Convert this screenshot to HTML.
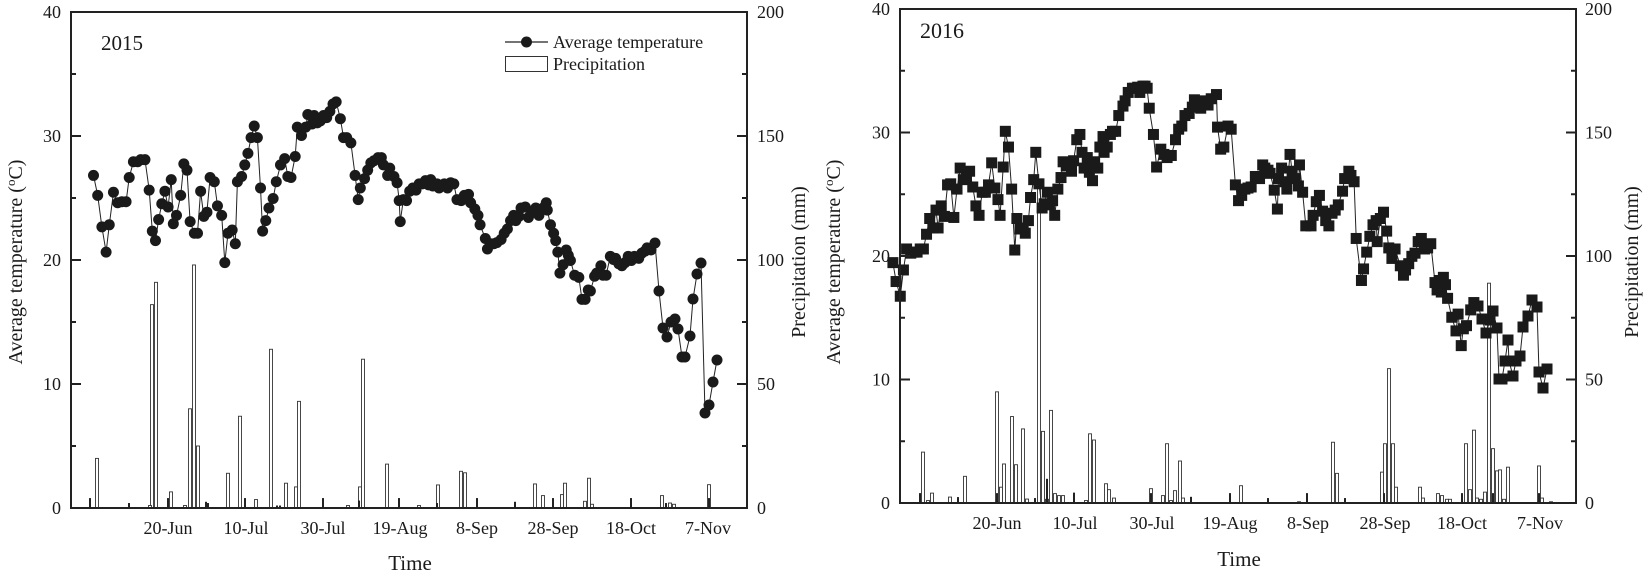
<!DOCTYPE html>
<html><head><meta charset="utf-8">
<style>
html,body{margin:0;padding:0;background:#fff;}
svg text{font-family:"Liberation Serif",serif;fill:#1a1a1a;}
</style></head>
<body>
<svg id="s" width="1650" height="573" viewBox="0 0 1650 573" xmlns="http://www.w3.org/2000/svg">
<g id="bars"></g>
<g id="lines"></g>
<g id="marks"></g>
<!-- LEFT CHART axes -->
<rect x="71" y="12" width="676" height="496" fill="none" stroke="#222" stroke-width="2"/>
<g stroke="#222" stroke-width="2">
<line x1="71" y1="136" x2="81" y2="136"/><line x1="71" y1="260" x2="81" y2="260"/><line x1="71" y1="384" x2="81" y2="384"/>
<line x1="71" y1="74" x2="76" y2="74"/><line x1="71" y1="198" x2="76" y2="198"/><line x1="71" y1="322" x2="76" y2="322"/><line x1="71" y1="446" x2="76" y2="446"/>
<line x1="747" y1="136" x2="737" y2="136"/><line x1="747" y1="260" x2="737" y2="260"/><line x1="747" y1="384" x2="737" y2="384"/>
<line x1="747" y1="74" x2="742" y2="74"/><line x1="747" y1="198" x2="742" y2="198"/><line x1="747" y1="322" x2="742" y2="322"/><line x1="747" y1="446" x2="742" y2="446"/>
</g>
<g font-size="18" text-anchor="end">
<text x="61" y="18">40</text><text x="61" y="142">30</text><text x="61" y="266">20</text><text x="61" y="390">10</text><text x="61" y="514">0</text>
</g>
<g font-size="18" text-anchor="start">
<text x="757" y="18">200</text><text x="757" y="142">150</text><text x="757" y="266">100</text><text x="757" y="390">50</text><text x="757" y="514">0</text>
</g>
<g font-size="18" text-anchor="middle">
<text x="168" y="534">20-Jun</text><text x="246" y="534">10-Jul</text><text x="323" y="534">30-Jul</text><text x="400" y="534">19-Aug</text><text x="477" y="534">8-Sep</text><text x="553" y="534">28-Sep</text><text x="631" y="534">18-Oct</text><text x="708" y="534">7-Nov</text>
</g>
<text x="410" y="570" font-size="21" text-anchor="middle">Time</text>
<text transform="translate(22,262) rotate(-90)" font-size="20" text-anchor="middle">Average temperature (<tspan dy="-7" font-size="13">o</tspan><tspan dy="7">C)</tspan></text>
<text transform="translate(805,262) rotate(-90)" font-size="20" text-anchor="middle">Precipitation (mm)</text>
<text x="101" y="50" font-size="21">2015</text>
<line x1="505" y1="42" x2="548" y2="42" stroke="#222" stroke-width="1.2"/>
<circle cx="526.5" cy="42" r="5.5" fill="#1a1a1a"/>
<text x="553" y="48" font-size="18">Average temperature</text>
<rect x="505.5" y="56.5" width="42" height="15" fill="#fff" stroke="#333" stroke-width="1"/>
<text x="553" y="70" font-size="18">Precipitation</text>

<!-- RIGHT CHART axes -->
<rect x="900" y="9" width="676" height="494" fill="none" stroke="#222" stroke-width="2"/>
<g stroke="#222" stroke-width="2">
<line x1="900" y1="132.5" x2="910" y2="132.5"/><line x1="900" y1="256" x2="910" y2="256"/><line x1="900" y1="379.5" x2="910" y2="379.5"/>
<line x1="900" y1="70.75" x2="905" y2="70.75"/><line x1="900" y1="194.25" x2="905" y2="194.25"/><line x1="900" y1="317.75" x2="905" y2="317.75"/><line x1="900" y1="441.25" x2="905" y2="441.25"/>
<line x1="1576" y1="132.5" x2="1566" y2="132.5"/><line x1="1576" y1="256" x2="1566" y2="256"/><line x1="1576" y1="379.5" x2="1566" y2="379.5"/>
<line x1="1576" y1="70.75" x2="1571" y2="70.75"/><line x1="1576" y1="194.25" x2="1571" y2="194.25"/><line x1="1576" y1="317.75" x2="1571" y2="317.75"/><line x1="1576" y1="441.25" x2="1571" y2="441.25"/>
</g>
<g font-size="18" text-anchor="end">
<text x="890" y="15">40</text><text x="890" y="138.5">30</text><text x="890" y="262">20</text><text x="890" y="385.5">10</text><text x="890" y="509">0</text>
</g>
<g font-size="18" text-anchor="start">
<text x="1585" y="15">200</text><text x="1585" y="138.5">150</text><text x="1585" y="262">100</text><text x="1585" y="385.5">50</text><text x="1585" y="509">0</text>
</g>
<g font-size="18" text-anchor="middle">
<text x="997" y="529">20-Jun</text><text x="1075" y="529">10-Jul</text><text x="1152" y="529">30-Jul</text><text x="1230" y="529">19-Aug</text><text x="1308" y="529">8-Sep</text><text x="1385" y="529">28-Sep</text><text x="1462" y="529">18-Oct</text><text x="1540" y="529">7-Nov</text>
</g>
<text x="1239" y="566" font-size="21" text-anchor="middle">Time</text>
<text transform="translate(840,262) rotate(-90)" font-size="20" text-anchor="middle">Average temperature (<tspan dy="-7" font-size="13">o</tspan><tspan dy="7">C)</tspan></text>
<text transform="translate(1638,262) rotate(-90)" font-size="20" text-anchor="middle">Precipitation (mm)</text>
<text x="920" y="38" font-size="22">2016</text>
</svg>
<script>
var K=1.0505,NS="http://www.w3.org/2000/svg";
function el(p,t,a){var e=document.createElementNS(NS,t);for(var k in a)e.setAttribute(k,a[k]);document.getElementById(p).appendChild(e);}
var L=[[89,167],[93,186],[97,216],[101,240],[104,214],[108,183],[112,193],[116,192],[120,192],[123,169],[127,154],[131,154],[134,152],[138,152],[142,181],[145,220],[148,229],[151,209],[154,194],[157,182],[160,197],[163,171],[165,213],[168,205],[172,186],[175,156],[178,162],[181,211],[185,222],[188,222],[191,182],[194,206],[197,202],[200,169],[204,173],[207,196],[211,205],[214,250],[217,222],[221,219],[224,232],[226,173],[230,168],[233,157],[236,146],[239,131],[242,120],[245,131],[248,179],[250,220],[253,210],[256,198],[260,189],[263,173],[267,157],[271,151],[274,168],[277,169],[281,149],[283,121],[287,129],[291,121],[293,109],[297,118],[299,110],[302,117],[305,115],[308,110],[311,112],[314,106],[317,99],[320,97],[324,113],[327,131],[330,131],[334,136],[338,167],[341,190],[343,179],[347,170],[350,162],[353,155],[356,153],[360,150],[363,150],[365,157],[369,167],[371,160],[375,168],[378,174],[380,191],[381,211],[384,190],[387,191],[390,182],[393,179],[396,181],[399,175],[402,175],[405,172],[408,176],[410,171],[412,177],[416,175],[418,179],[420,177],[423,175],[426,179],[429,174],[432,175],[435,190],[439,191],[442,186],[446,185],[448,193],[452,199],[455,205],[457,214],[462,227],[464,237],[467,232],[470,232],[473,231],[477,228],[480,222],[483,218],[486,210],[489,205],[491,210],[494,206],[496,198],[500,197],[503,207],[507,202],[510,198],[513,205],[517,198],[520,193],[521,200],[524,214],[527,222],[529,229],[531,240],[533,260],[536,252],[539,238],[541,243],[543,248],[547,262],[551,264],[554,285],[557,285],[560,276],[562,277],[566,263],[568,260],[572,253],[574,262],[577,262],[581,244],[584,247],[586,246],[589,251],[592,253],[595,250],[598,244],[601,248],[604,244],[608,246],[611,241],[614,239],[616,236]].map(function(p){return[p[0]*K,p[1]*K];});
L=L.concat([[651,250],[655,243],[659,291],[663,328],[667,337],[671,322],[675,319],[678,329],[682,357],[685,357],[690,336],[693,299],[697,274],[701,263],[705,413],[709,405],[713,382],[717,360]]);
var R=[[857,250],[860,268],[864,282],[867,257],[870,237],[874,241],[877,240],[880,240],[883,237],[886,237],[889,223],[892,208],[895,217],[898,200],[900,217],[903,196],[906,206],[909,176],[912,175],[915,207],[918,180],[921,160],[924,171],[927,170],[930,163],[933,178],[936,196],[939,205],[942,183],[945,183],[948,176],[951,155],[954,179],[957,190],[959,205],[962,159],[964,125],[967,140],[970,180],[973,238],[975,208],[978,218],[981,217],[983,222],[986,210],[988,188],[991,171],[993,145],[996,175],[999,198],[1001,194],[1004,183],[1006,195],[1009,191],[1011,205],[1014,180],[1017,169],[1019,154],[1022,158],[1025,157],[1027,163],[1029,153],[1032,133],[1035,128],[1037,145],[1039,160],[1042,150],[1044,164],[1047,172],[1049,154],[1052,160],[1054,140],[1057,130],[1058,145],[1061,140],[1064,128],[1066,125],[1069,125],[1072,110],[1076,101],[1078,96],[1081,88],[1085,84],[1087,84],[1090,83],[1092,88],[1095,82],[1097,82],[1099,84],[1101,103],[1105,128],[1108,159],[1112,142],[1115,147],[1118,150],[1122,148],[1126,133],[1129,123],[1132,120],[1135,110],[1139,108],[1142,102],[1144,95],[1147,99],[1150,103],[1154,96],[1157,100],[1160,94],[1165,90],[1166,121],[1169,142],[1172,140],[1176,120],[1179,123],[1183,176],[1186,191],[1189,186],[1192,180],[1195,179],[1198,178],[1202,168],[1206,170],[1209,157],[1211,160],[1214,162],[1216,165],[1220,181],[1223,199],[1224,170],[1227,160],[1230,173],[1232,180],[1235,147],[1237,163],[1240,170],[1243,177],[1244,157],[1247,183],[1250,215],[1255,215],[1257,205],[1260,192],[1263,186],[1266,201],[1269,210],[1272,215],[1275,203],[1278,200],[1281,195],[1285,182],[1287,170],[1291,163],[1293,167],[1296,173],[1298,227],[1303,267],[1305,256],[1308,240],[1311,225],[1314,214],[1317,210],[1318,230],[1321,208],[1324,202],[1327,220],[1329,236],[1332,246],[1335,237],[1340,253],[1343,262],[1345,257],[1348,251],[1351,244],[1354,241],[1357,230],[1360,227],[1363,237],[1366,236],[1369,232],[1373,269],[1375,276],[1377,267],[1379,278],[1381,264],[1383,271],[1385,284],[1389,302],[1393,315],[1395,299],[1398,329],[1400,313],[1403,310],[1407,295],[1410,288]].map(function(p){return[(p[0]-7)*K,p[1]*K];});
R=R.concat([[1478,306],[1482,319],[1486,333],[1490,320],[1493,311],[1497,328],[1499,379],[1502,379],[1505,361],[1508,340],[1509,361],[1513,376],[1516,361],[1520,356],[1523,327],[1528,316],[1532,300],[1537,307],[1539,372],[1543,388],[1547,369]]);
function poly(pts){el("lines","polyline",{points:pts.map(function(p){return p[0].toFixed(1)+","+p[1].toFixed(1)}).join(" "),fill:"none",stroke:"#222","stroke-width":"1"});}
poly(L);poly(R);
L.forEach(function(p){el("marks","circle",{cx:p[0],cy:p[1],r:5.5,fill:"#1a1a1a"});});
R.forEach(function(p){el("marks","rect",{x:p[0]-5.5,y:p[1]-5.5,width:11,height:11,fill:"#1a1a1a"});});
var LB=[[97,20],[152,82],[156,91],[171,6.5],[190,40],[194,98],[198,25],[228,14],[240,37],[256,3.4],[271,64],[286,10],[296,8.5],[299,43],[348,1],[360,8.5],[363,60],[387,17.7],[419,1],[438,9.3],[461,14.8],[465,14.2],[535,9.7],[543,5],[562,5.4],[565,10],[585,2.7],[589,12],[592,1.5],[662,5],[670,2],[674,1.5],[709,9.4],[150,1],[185,1],[207,1.5]];
var LD=[[90,4],[129,2],[168,4],[206,2.5],[208,2],[245,4],[277,1],[280,1],[323,4],[359,3],[399,4],[437,2],[477,4],[515,2.5],[553,4],[631,4],[666,2],[709,4]];
var RB=[[923,20.6],[928,1],[932,4],[950,2.4],[965,10.8],[997,45],[1001,6.4],[1004,15.8],[1012,35],[1016,15.5],[1023,30],[1027,1.6],[1039,129],[1043,29],[1047,1.5],[1051,37.5],[1055,3.8],[1059,3],[1063,3],[1086,1],[1090,28],[1094,25.5],[1106,7.8],[1109,5.4],[1114,2],[1151,5.8],[1163,3],[1167,24],[1171,1],[1175,5],[1180,17],[1183,2],[1241,7],[1299,0.5],[1333,24.6],[1337,12],[1382,12.5],[1385,24],[1389,54.4],[1393,24],[1396,6.4],[1420,6.4],[1423,2],[1438,3.8],[1442,3],[1447,1.5],[1450,1.5],[1466,24],[1470,5.4],[1474,29.5],[1477,2],[1481,1.5],[1485,4.4],[1489,89],[1493,22],[1497,13],[1500,13.4],[1504,1.5],[1508,14.5],[1539,15],[1542,2],[1551,0.5]];
var RD=[[920,4],[958,2.4],[997,4],[1035,2],[1047,9.8],[1074,4.2],[1151,4],[1191,2.5],[1230,4],[1268,2],[1307,4],[1345,2],[1384,4],[1462,4],[1493,4],[1539,4]];
function bars(arr,y0,s,dark){arr.forEach(function(b){var h=b[1]*s;if(dark)el("bars","rect",{x:b[0]-1,y:y0-h,width:2,height:h,fill:"#222"});else el("bars","rect",{x:b[0]-1.5,y:y0-h,width:3,height:h,fill:"#fff",stroke:"#333","stroke-width":"0.9"});});}
bars(LB,508,2.48,false);bars(LD,508,2.48,true);bars(RB,503,2.47,false);bars(RD,503,2.47,true);
</script>
</body></html>
